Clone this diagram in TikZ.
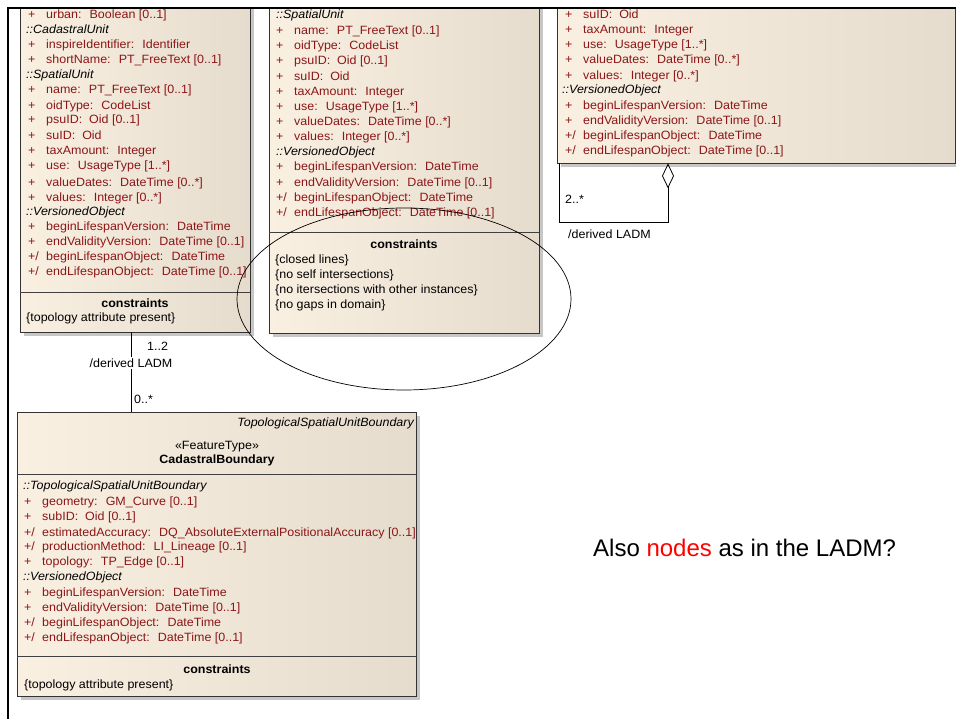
\documentclass[tikz,border=0pt]{standalone}
\usepackage{fontspec}
\setmainfont{Liberation Sans}
\newfontfamily\umlfont[FakeStretch=1.04]{Liberation Sans}
\usetikzlibrary{positioning,arrows.meta,shadows}

\definecolor{umlleft}{RGB}{250,240,226}
\definecolor{umlright}{RGB}{229,220,206}
\definecolor{attrred}{RGB}{140,22,22}

\tikzset{
  umlbox/.style={draw=black!80, left color=umlleft, right color=umlright, inner sep=0pt, anchor=north west,
    drop shadow={shadow xshift=4pt, shadow yshift=-4pt, fill=black!22, opacity=1}},
  sepline/.style={draw=black!75},
  attr/.style={anchor=base west, inner sep=0pt, text=attrred, font=\umlfont\fontsize{12}{14}\selectfont},
  scopetxt/.style={anchor=base west, inner sep=0pt, font=\umlfont\fontsize{12}{14}\selectfont\itshape},
  plaintxt/.style={anchor=base west, inner sep=0pt, font=\umlfont\fontsize{12}{14}\selectfont},
  headbold/.style={anchor=base, inner sep=0pt, font=\umlfont\fontsize{12}{14}\selectfont\bfseries},
  assoc/.style={draw=black, line width=0.8pt},
}
\newcommand{\vis}[1]{\makebox[18pt][l]{#1}}

\begin{document}
\begin{tikzpicture}[x=1pt,y=-1pt]
    \fill[white] (0,0) rectangle (956,719);
    \useasboundingbox (0,0) rectangle (956,719);
    \begin{scope}
        \clip (8,8) rectangle (956,719);
        \node[umlbox, minimum width=230pt, minimum height=334pt] (boxA) at (20,-2) {};
        \node[umlbox, minimum width=270pt, minimum height=335pt] (boxB) at (269,-2) {};
        \node[umlbox, minimum width=398pt, minimum height=165pt] (boxC) at (557,-2) {};
        \node[umlbox, minimum width=399pt, minimum height=284pt] (boxD) at (17,412) {};
        \draw[sepline] (boxA.west |- 0,292) -- (boxA.east |- 0,292);
        \draw[sepline] (boxB.west |- 0,232) -- (boxB.east |- 0,232);
        \draw[sepline] (boxD.west |- 0,474) -- (boxD.east |- 0,474);
        \draw[sepline] (boxD.west |- 0,656) -- (boxD.east |- 0,656);

        \node[attr] (a1) at (28,19) {\vis{+}urban:~ Boolean [0..1]};
        \node[scopetxt] (a2) at (26,34) {::CadastralUnit};
        \node[attr] (a3) at (28,49) {\vis{+}inspireIdentifier:~ Identifier};
        \node[attr] (a4) at (28,64) {\vis{+}shortName:~ PT\_FreeText [0..1]};
        \node[scopetxt] (a5) at (26,79) {::SpatialUnit};
        \node[attr] (a6) at (28,94) {\vis{+}name:~ PT\_FreeText [0..1]};
        \node[attr] (a7) at (28,110) {\vis{+}oidType:~ CodeList};
        \node[attr] (a8) at (28,124) {\vis{+}psuID:~ Oid [0..1]};
        \node[attr] (a9) at (28,140) {\vis{+}suID:~ Oid};
        \node[attr] (a10) at (28,155) {\vis{+}taxAmount:~ Integer};
        \node[attr] (a11) at (28,170) {\vis{+}use:~ UsageType [1..*]};
        \node[attr] (a12) at (28,187) {\vis{+}valueDates:~ DateTime [0..*]};
        \node[attr] (a13) at (28,202) {\vis{+}values:~ Integer [0..*]};
        \node[scopetxt] (a14) at (26,216) {::VersionedObject};
        \node[attr] (a15) at (28,231) {\vis{+}beginLifespanVersion:~ DateTime};
        \node[attr] (a16) at (28,246) {\vis{+}endValidityVersion:~ DateTime [0..1]};
        \node[attr] (a17) at (28,261) {\vis{+/}beginLifespanObject:~ DateTime};
        \node[attr] (a18) at (28,276) {\vis{+/}endLifespanObject:~ DateTime [0..1]};
        \node[headbold] (aCons) at (135,308) {constraints};
        \node[plaintxt] (aCons1) at (26,322) {\{topology attribute present\}};

        \node[scopetxt] (b1) at (276,19) {::SpatialUnit};
        \node[attr] (b2) at (276,35) {\vis{+}name:~ PT\_FreeText [0..1]};
        \node[attr] (b3) at (276,50) {\vis{+}oidType:~ CodeList};
        \node[attr] (b4) at (276,65) {\vis{+}psuID:~ Oid [0..1]};
        \node[attr] (b5) at (276,81) {\vis{+}suID:~ Oid};
        \node[attr] (b6) at (276,96) {\vis{+}taxAmount:~ Integer};
        \node[attr] (b7) at (276,111) {\vis{+}use:~ UsageType [1..*]};
        \node[attr] (b8) at (276,126) {\vis{+}valueDates:~ DateTime [0..*]};
        \node[attr] (b9) at (276,141) {\vis{+}values:~ Integer [0..*]};
        \node[scopetxt] (b10) at (276,156) {::VersionedObject};
        \node[attr] (b11) at (276,171) {\vis{+}beginLifespanVersion:~ DateTime};
        \node[attr] (b12) at (276,187) {\vis{+}endValidityVersion:~ DateTime [0..1]};
        \node[attr] (b13) at (276,202) {\vis{+/}beginLifespanObject:~ DateTime};
        \node[attr] (b14) at (276,217) {\vis{+/}endLifespanObject:~ DateTime [0..1]};
        \node[headbold] (bCons) at (404,249) {constraints};
        \node[plaintxt] (bCons1) at (275,264) {\{closed lines\}};
        \node[plaintxt] (bCons2) at (275,279) {\{no self intersections\}};
        \node[plaintxt] (bCons3) at (275,294) {\{no itersections with other instances\}};
        \node[plaintxt] (bCons4) at (275,309) {\{no gaps in domain\}};

        \node[attr] (c1) at (565,19) {\vis{+}suID:~ Oid};
        \node[attr] (c2) at (565,34) {\vis{+}taxAmount:~ Integer};
        \node[attr] (c3) at (565,49) {\vis{+}use:~ UsageType [1..*]};
        \node[attr] (c4) at (565,64) {\vis{+}valueDates:~ DateTime [0..*]};
        \node[attr] (c5) at (565,80) {\vis{+}values:~ Integer [0..*]};
        \node[scopetxt] (c6) at (562,94) {::VersionedObject};
        \node[attr] (c7) at (565,110) {\vis{+}beginLifespanVersion:~ DateTime};
        \node[attr] (c8) at (565,125) {\vis{+}endValidityVersion:~ DateTime [0..1]};
        \node[attr] (c9) at (565,140) {\vis{+/}beginLifespanObject:~ DateTime};
        \node[attr] (c10) at (565,155) {\vis{+/}endLifespanObject:~ DateTime [0..1]};

        \node[scopetxt, anchor=base east] (dParent) at (414,426) {TopologicalSpatialUnitBoundary};
        \node[plaintxt, anchor=base] (dStereo) at (217,449) {«FeatureType»};
        \node[headbold] (dName) at (217,463) {CadastralBoundary};
        \node[scopetxt] (d1) at (23,489) {::TopologicalSpatialUnitBoundary};
        \node[attr] (d2) at (24,505) {\vis{+}geometry:~ GM\_Curve [0..1]};
        \node[attr] (d3) at (24,520) {\vis{+}subID:~ Oid [0..1]};
        \node[attr] (d4) at (24,536) {\vis{+/}estimatedAccuracy:~ DQ\_AbsoluteExternalPositionalAccuracy [0..1]};
        \node[attr] (d5) at (24,550) {\vis{+/}productionMethod:~ LI\_Lineage [0..1]};
        \node[attr] (d6) at (24,565) {\vis{+}topology:~ TP\_Edge [0..1]};
        \node[scopetxt] (d7) at (23,580) {::VersionedObject};
        \node[attr] (d8) at (24,596) {\vis{+}beginLifespanVersion:~ DateTime};
        \node[attr] (d9) at (24,611) {\vis{+}endValidityVersion:~ DateTime [0..1]};
        \node[attr] (d10) at (24,626) {\vis{+/}beginLifespanObject:~ DateTime};
        \node[attr] (d11) at (24,641) {\vis{+/}endLifespanObject:~ DateTime [0..1]};
        \node[headbold] (dCons) at (217,673) {constraints};
        \node[plaintxt] (dCons1) at (24,688) {\{topology attribute present\}};
    \end{scope}

    \node[plaintxt, anchor=center, inner sep=1.5pt] (lblAD) at (131,363) {/derived LADM};
    \node[plaintxt] (multA) at (147,350) {1..2};
    \node[plaintxt] (multD) at (134,403) {0..*};
    \draw[assoc] (boxA.south -| lblAD) -- (lblAD.north);
    \draw[assoc] (lblAD.south) -- (boxD.north -| lblAD);

    \coordinate (aggTurn) at (668,222);
    \coordinate (selfTurn) at (559,222);
    \draw[assoc, {Diamond[open, length=25pt, width=12pt]}-] (boxC.south -| aggTurn) -- (aggTurn) -- (selfTurn) -- (boxC.south -| selfTurn);
    \node[plaintxt] (multC) at (565,204) {2..*};
    \node[plaintxt] (lblC) at (568,239) {/derived LADM};

    \draw[black, line width=0.7pt] (404,299) ellipse [x radius=167, y radius=91];

    \node[anchor=base west, inner sep=0pt, font=\fontsize{24}{28}\selectfont] (question) at (593,556) {Also \textcolor{red}{nodes} as in the LADM?};

    \draw[line width=2.5pt] (8,719) -- (8,8) -- (956,8);
\end{tikzpicture}
\end{document}
